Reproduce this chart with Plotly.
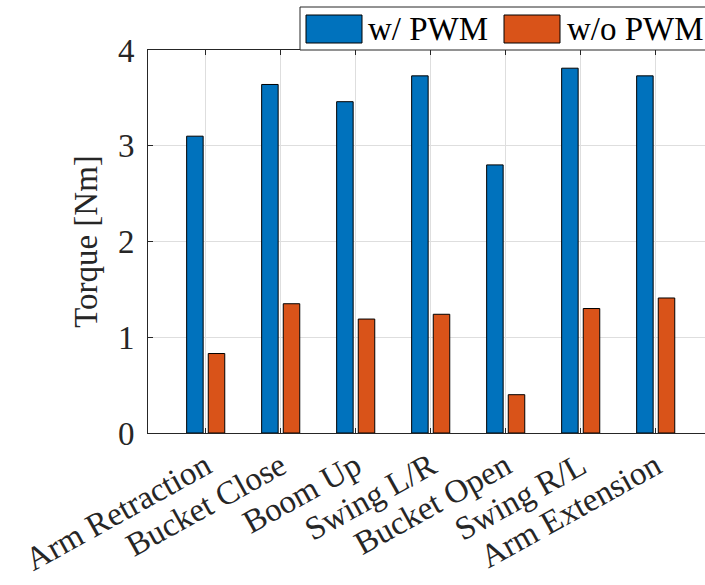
import plotly.graph_objects as go

# Peak torque per excavator motion, with and without PWM control
motions = ["Arm Retraction", "Bucket Close", "Boom Up", "Swing L/R",
           "Bucket Open", "Swing R/L", "Arm Extension"]
torque_pwm = [3.10, 3.64, 3.46, 3.73, 2.80, 3.81, 3.73]
torque_no_pwm = [0.83, 1.35, 1.19, 1.24, 0.40, 1.30, 1.41]
series_names = ["w/ PWM", "w/o PWM"]
y_ticks = [0, 1, 2, 3, 4]

BLUE = "#0072BD"
ORANGE = "#D95319"
INK = "#262626"
GRID = "#dedede"
FONT = "Liberation Serif"
FS = 33

W, H = 705, 585
ML, MR, MT, MB = 148, 0, 50, 152
PW, PH = W - ML - MR, H - MT - MB


def px_x(px):
    return (px - ML) / PW


def px_y(py):
    return (H - MB - py) / PH


fig = go.Figure()
for name, vals, col in [(series_names[0], torque_pwm, BLUE),
                        (series_names[1], torque_no_pwm, ORANGE)]:
    fig.add_trace(go.Bar(
        x=motions, y=vals, name=name,
        marker=dict(color=col, line=dict(color="#000000", width=1)),
        showlegend=False,
    ))

# category spacing is 75 px; first category sits 57.7 px right of the y axis
step_px = 75.0
x0 = -(205.7 - ML) / step_px
x1 = x0 + PW / step_px

fig.update_layout(
    width=W, height=H,
    margin=dict(l=ML, r=MR, t=MT, b=MB, autoexpand=False),
    paper_bgcolor="white", plot_bgcolor="white",
    barmode="group", bargap=0.424, bargroupgap=0.236,
    font=dict(family=FONT, size=FS, color=INK),
    xaxis=dict(
        type="category", range=[x0, x1],
        showline=True, linecolor=INK, linewidth=1, mirror="ticks",
        ticks="inside", ticklen=5, tickcolor=INK,
        showgrid=True, gridcolor=GRID, gridwidth=1,
        tickangle=-29, tickfont=dict(family=FONT, size=FS, color=INK),
        automargin=False,
    ),
    yaxis=dict(
        range=[0, 4], tickvals=y_ticks,
        showline=True, linecolor=INK, linewidth=1, mirror=False,
        ticks="inside", ticklen=5, tickcolor=INK,
        showgrid=True, gridcolor=GRID, gridwidth=1, zeroline=False,
        tickfont=dict(family=FONT, size=FS, color=INK),
        ticklabelstandoff=6,
        title=dict(text="Torque [Nm]", font=dict(family=FONT, size=FS, color=INK),
                   standoff=10),
        automargin=False,
    ),
)

# Legend box drawn above the axes, right aligned
shapes = [
    dict(type="rect", xref="paper", yref="paper",
         x0=px_x(300), x1=px_x(720), y0=px_y(50), y1=px_y(7),
         line=dict(color=INK, width=1), fillcolor="white", layer="above"),
]
annotations = []
legend_items = [(series_names[0], BLUE, 306, 366), (series_names[1], ORANGE, 504, 565)]
for text, col, sx, tx in legend_items:
    shapes.append(dict(type="rect", xref="paper", yref="paper",
                       x0=px_x(sx), x1=px_x(sx + 56), y0=px_y(43), y1=px_y(15),
                       line=dict(color="#000000", width=1), fillcolor=col,
                       layer="above"))
    annotations.append(dict(text=text, xref="paper", yref="paper",
                            x=px_x(tx), y=px_y(29), xanchor="left", yanchor="middle",
                            showarrow=False, font=dict(family=FONT, size=FS, color="#000000")))

fig.update_layout(shapes=shapes, annotations=annotations)

fig.write_html("out.html")
